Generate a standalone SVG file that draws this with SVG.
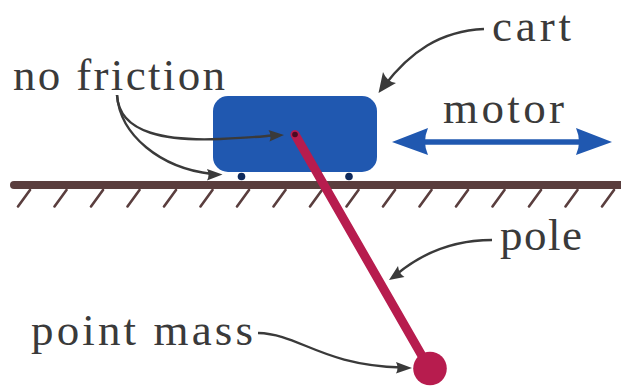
<svg xmlns="http://www.w3.org/2000/svg" width="621" height="387" viewBox="0 0 621 387">
<style>
text{font-family:"Liberation Serif","Times New Roman",serif;font-size:45px;fill:#3a3a3a}
.c{fill:none;stroke:#3a3a3a;stroke-width:2.4}
.h{stroke:#5a3e3e;stroke-width:2.6;stroke-linecap:round}
.a{fill:#3a3a3a}
.w{fill:#0f2a5c}
</style>
<rect width="621" height="387" fill="#fff"/>
<g id="ground">
<line x1="14" y1="185" x2="621" y2="185" stroke="#5a3e3e" stroke-width="8" stroke-linecap="round"/>
<path class="h" fill="none" d="M30 190L18 206.500M66.500 190L54.500 206.500M103 190L91 206.500M139.500 190L127.500 206.500M176 190L164 206.500M212.500 190L200.500 206.500M249 190L237 206.500M285.500 190L273.500 206.500M322 190L310 206.500M358.500 190L346.500 206.500M395 190L383 206.500M431.500 190L419.500 206.500M468 190L456 206.500M504.500 190L492.500 206.500M541 190L529 206.500M577.500 190L565.500 206.500M614 190L602 206.500"/>
</g>
<g id="cart">
<circle class="w" cx="241.500" cy="176.500" r="3.800"/>
<circle class="w" cx="349" cy="176.500" r="3.800"/>
<rect x="213" y="96" width="164" height="76" rx="15" fill="#2058b0"/>
</g>
<g id="pole">
<line x1="295" y1="134.500" x2="429" y2="368" stroke="#b71c4e" stroke-width="9" stroke-linecap="round"/>
<circle cx="295" cy="134.500" r="2.800" fill="#4a0a22"/>
</g>
<g id="point-mass"><circle cx="430" cy="368.500" r="16.800" fill="#b71c4e"/></g>
<g id="motor">
<line x1="420" y1="142" x2="585" y2="142" stroke="#2058b0" stroke-width="5.500"/>
<path fill="#2058b0" d="M392 142L428 128Q422 142 428 155ZM612 142L576 128Q582 142 576 155Z"/>
<text x="443" y="123" textLength="121">motor</text>
</g>
<g id="connectors">
<path class="c" d="M484 29C440 31 410 52 384 86"/>
<path class="a" d="M378.500 93L383 72Q387 82 396 83Z"/>
<path class="c" d="M117 95C119 135 170 141 220 139C240 138 260 137 272 135.500"/>
<path class="a" d="M284 135L268.500 130Q272 135.500 269.500 141.500Z"/>
<path class="c" d="M117 95C120 135 160 168 212 174"/>
<path class="a" d="M222.500 174.500L207 169Q210 175 207 180.500Z"/>
<path class="c" d="M492 240C450 240 420 255 397 274"/>
<path class="a" d="M389 280L398 266Q399 274 404.500 277Z"/>
<path class="c" d="M258 333C300 334 320 365 402 367.500"/>
<path class="a" d="M412 368L396 362Q399 368 396 373.500Z"/>
</g>
<g id="labels">
<text x="13" y="90" textLength="212">no friction</text>
<text x="492" y="40.500" textLength="79">cart</text>
<text x="500" y="250" textLength="82">pole</text>
<text x="31" y="345" textLength="222">point mass</text>
</g>
</svg>
